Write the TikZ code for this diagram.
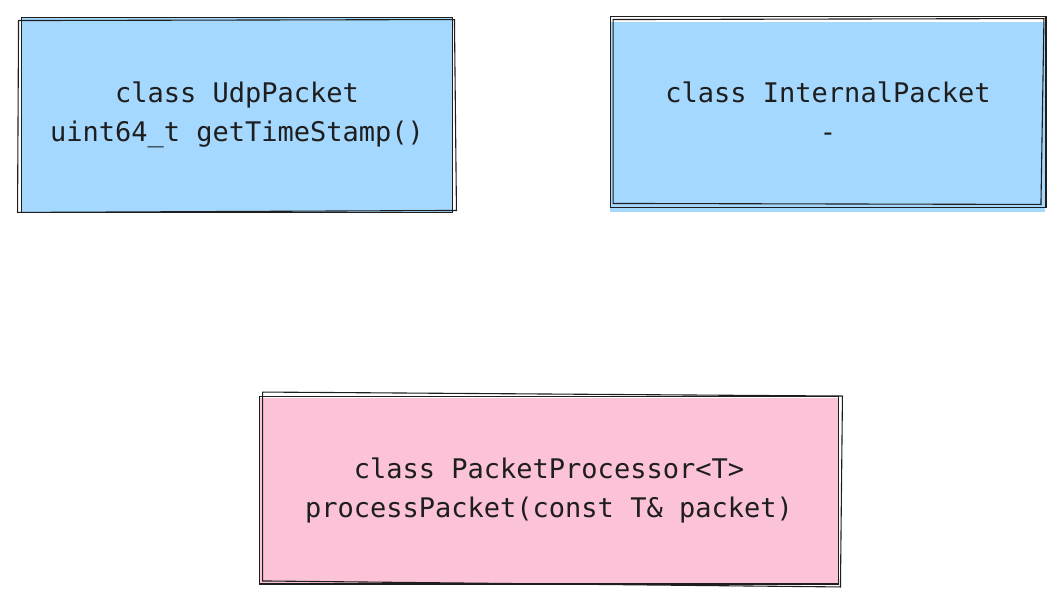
\documentclass[tikz,border=0pt]{standalone}
\usepackage{fontspec}
\setmonofont{DejaVu Sans Mono}
\definecolor{cblue}{HTML}{A5D8FF}
\definecolor{cpink}{HTML}{FCC2D7}
\definecolor{ink}{HTML}{1E1E1E}
\tikzset{
 box/.style={draw=ink,line width=0.9pt,align=center,inner sep=0pt,font=\ttfamily\fontsize{27}{39}\selectfont,text=ink},
 sk/.style={draw=ink,line width=1.1pt}
}
\begin{document}
\begin{tikzpicture}[x=1pt,y=-1pt]
\useasboundingbox (0,0) rectangle (1063,605);
\fill[cblue] (22,18) rectangle (452,212);
\fill[cblue] (610,22) rectangle (1045,212);
\fill[cpink] (260,398) rectangle (838,585);
\node[box,draw=none,minimum width=430pt,minimum height=194pt] (udp) at (237,115) {class UdpPacket\\uint64\_t getTimeStamp()};
\node[box,draw=none,minimum width=435pt,minimum height=190pt] (int) at (828,112) {class InternalPacket\\-};
\node[box,draw=none,minimum width=578pt,minimum height=187pt] (pp) at (549,490) {class PacketProcessor<T>\\processPacket(const T\& packet)};
% sketchy borders
\draw[sk] (udp.north west) rectangle (udp.south east);
\draw[sk] ([shift={(-3,3)}]udp.north west) -- ([shift={(2,2)}]udp.north east) -- ([shift={(4,-2)}]udp.south east) -- ([shift={(-4,0)}]udp.south west) -- cycle;
\draw[sk] (int.north west) rectangle (int.south east);
\draw[sk] ([shift={(3,3)}]int.north west) -- ([shift={(-2,2)}]int.north east) -- ([shift={(-5,-3)}]int.south east) -- ([shift={(3,-4)}]int.south west) -- cycle;
\draw[sk] (pp.north west) rectangle (pp.south east);
\draw[sk] ([shift={(3,-4)}]pp.north west) -- ([shift={(4,0)}]pp.north east) -- ([shift={(2,3)}]pp.south east) -- ([shift={(3,-3)}]pp.south west) -- cycle;
\end{tikzpicture}
\end{document}
